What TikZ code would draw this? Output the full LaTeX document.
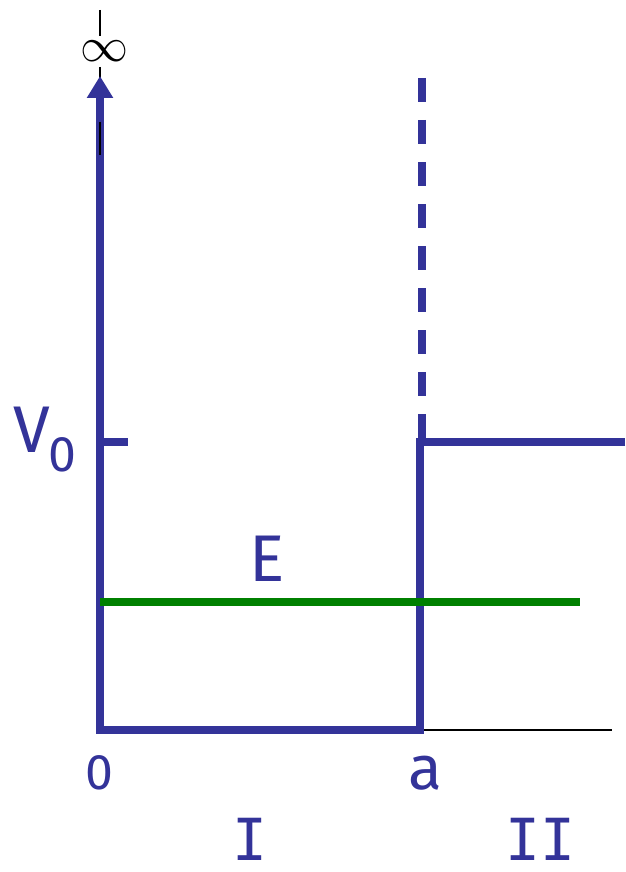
\documentclass[tikz,border=0pt]{standalone}
\usepackage{fontspec}
\usepackage{graphicx}
\setmainfont{Fira Sans}[Numbers=Lining]
\newfontfamily\barfont{DejaVu Sans Mono}
\usetikzlibrary{arrows.meta}
\definecolor{potblue}{RGB}{51,51,153}
\definecolor{egreen}{RGB}{0,128,0}
\begin{document}
\begin{tikzpicture}[x=1pt,y=-1pt,
  wall/.style={draw=potblue,line width=7.5pt},
  thinline/.style={draw=black,line width=1.5pt},
  lbl/.style={text=potblue,inner sep=0pt,font=\fontsize{66}{66}\selectfont},
  sublbl/.style={text=potblue,inner sep=0pt,font=\fontsize{50}{50}\selectfont},
  romlbl/.style={text=potblue,inner sep=0pt,font=\barfont\fontsize{58}{58}\selectfont}]
\useasboundingbox (0,0) rectangle (625,872);
% coordinates
\coordinate (O) at (100,730);
\coordinate (A) at (420,730);
\coordinate (Av) at (420,442);
\coordinate (R) at (625,442);
\coordinate (top) at (100,76);
\coordinate (dtop) at (422,78);
\coordinate (dbot) at (422,442);
\coordinate (tickL) at (100,442);
\coordinate (tickR) at (128,442);
\coordinate (gL) at (100,602);
\coordinate (gR) at (580,602);
\coordinate (bR) at (612,730);
\coordinate (k1) at (100,10);
\coordinate (k2) at (100,36);
\coordinate (k3) at (100,67);
\coordinate (k4) at (100,78);
\coordinate (k5) at (100,122);
\coordinate (k6) at (100,155);
% thin black lines
\draw[thinline] (A) -- (bR);
\draw[thinline] (k1) -- (k2);
\draw[thinline] (k3) -- (k4);
% potential
\draw[wall,miter limit=10,-{Triangle[width=25pt,length=22pt]}] (R) -- (Av) -- (A) -- (O) -- (top);
\draw[thinline] (k5) -- (k6);
\draw[wall,dash pattern=on 24pt off 18pt] (dtop) -- (dbot);
\draw[wall] (tickL) -- (tickR);
% energy
\draw[draw=egreen,line width=7.5pt] (gL) -- (gR);
% labels
\node[inner sep=0pt] (inf) at (104,51) {\scalebox{4.8}{$\infty$}};
\node[lbl] (V) at (32,430) {V};
\node[sublbl] (Vsub) at (62,455) {0};
\node[lbl] (E) at (267,559) {E};
\node[sublbl] (zero) at (99,773) {0};
\node[text=potblue,inner sep=0pt,font=\fontsize{62}{62}\selectfont] (a) at (425,773) {a};
\node[romlbl] (I) at (250,839) {I};
\node[romlbl] (II) at (540,839) {II};
\end{tikzpicture}
\end{document}
